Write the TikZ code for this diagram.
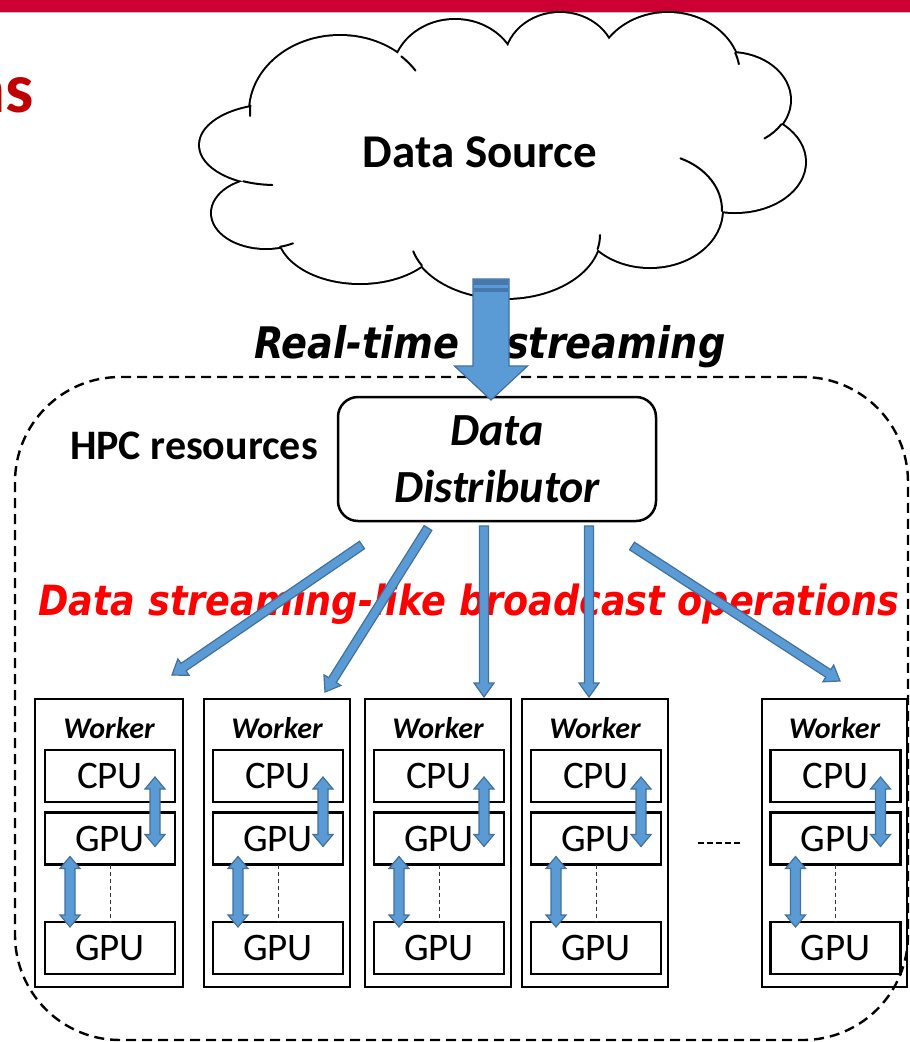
\documentclass[tikz,border=0pt]{standalone}
\usepackage{fontspec}
\setmainfont{Carlito}
\newfontfamily\handfont{DejaVu Sans Bold Oblique}[FakeStretch=0.88]
\usetikzlibrary{calc}

\definecolor{barred}{HTML}{CC0033}
\definecolor{headred}{HTML}{C00000}
\definecolor{flowfill}{HTML}{5B9BD5}
\definecolor{flowedge}{HTML}{41719C}
\definecolor{flowdark}{HTML}{4678B0}

% single-headed block arrow: start, end, shaft half-width, head half-width, head length
\newcommand\blockarrow[5]{%
  \path (#1) coordinate (ba-s) (#2) coordinate (ba-e);
  \path ($(ba-e)!#5!(ba-s)$) coordinate (ba-m);
  \filldraw[flowarrow]
    ($(ba-s)!#3!90:(ba-e)$) -- ($(ba-m)!#3!-90:(ba-s)$) -- ($(ba-m)!#4!-90:(ba-s)$)
    -- (ba-e) -- ($(ba-m)!#4!90:(ba-s)$) -- ($(ba-m)!#3!90:(ba-s)$)
    -- ($(ba-s)!#3!-90:(ba-e)$) -- cycle;
}
% double-headed block arrow: start, end, shaft half-width, head half-width, head length
\newcommand\dblarrow[5]{%
  \path (#1) coordinate (da-s) (#2) coordinate (da-e);
  \path ($(da-s)!#5!(da-e)$) coordinate (da-ms) ($(da-e)!#5!(da-s)$) coordinate (da-me);
  \filldraw[flowarrow]
    (da-s) -- ($(da-ms)!#4!90:(da-e)$) -- ($(da-ms)!#3!90:(da-e)$)
    -- ($(da-me)!#3!-90:(da-s)$) -- ($(da-me)!#4!-90:(da-s)$) -- (da-e)
    -- ($(da-me)!#4!90:(da-s)$) -- ($(da-me)!#3!90:(da-s)$)
    -- ($(da-ms)!#3!-90:(da-e)$) -- ($(da-ms)!#4!-90:(da-e)$) -- cycle;
}
% short inner stroke of a cloud puff: centre x, centre y, rx, ry, from angle, to angle
\newcommand\cloudhook[6]{%
  \draw[cloudline] ($(#1,#2)+(#5:#3 and #4)$) arc[start angle=#5, end angle=#6, x radius=#3, y radius=#4];
}

\begin{document}
\begin{tikzpicture}[x=1pt,y=-1pt,
  every node/.style={inner sep=0pt, outer sep=0pt},
  flowarrow/.style={fill=flowfill, draw=flowedge, line width=1.2pt, line join=miter},
  cloudline/.style={line width=2pt, line cap=round},
  distbox/.style={draw, line width=2.5pt, rounded corners=20pt, minimum width=318pt,
    minimum height=124pt, align=center, font=\bfseries\itshape\fontsize{46}{57}\selectfont},
  hpcbox/.style={draw, line width=2.4pt, dash pattern=on 10pt off 6pt, rounded corners=105pt},
  workerbox/.style={draw, line width=2.5pt, minimum height=288pt},
  unitbox/.style={draw, line width=2.2pt, minimum width=130pt, minimum height=52pt,
    font=\fontsize{39}{40}\selectfont},
  workertitle/.style={anchor=base, font=\bfseries\itshape\fontsize{30}{32}\selectfont},
  linkdash/.style={line width=1pt, dash pattern=on 4pt off 3pt, black!80},
  handtext/.style={anchor=base west, font=\handfont\fontsize{43.5}{46}\selectfont},
]
\useasboundingbox (0,0) rectangle (910,1042);
\fill[white] (0,0) rectangle (910,1042);

% slide header
\fill[barred] (0,0) rectangle (910,12);
\draw[black!25, line width=1pt] (0,12.5) -- (910,12.5);
\node[anchor=base east, text=headred, font=\bfseries\fontsize{71}{72}\selectfont] (ttl) at (34,112) {ns};

% cloud: union of puffs
\def\puffs{340/112/90/76, 455/75/62/55, 560/62/55/49, 668/75/72/62, 730/100/60/47,
  735/162/70/50, 650/210/72/57, 505/235/95/63, 360/232/82/51, 266/213/54/35, 275/145/75/40}
\foreach \cx/\cy/\rx/\ry in \puffs {
  \draw[line width=4pt] (\cx,\cy) ellipse[x radius=\rx, y radius=\ry];
}
\foreach \cx/\cy/\rx/\ry in \puffs {
  \fill[white] (\cx,\cy) ellipse[x radius=\rx, y radius=\ry];
}
\fill[white] (500,160) ellipse[x radius=230, y radius=95];
\cloudhook{340}{112}{90}{76}{185}{177}
\cloudhook{275}{145}{75}{40}{115}{92}
\cloudhook{266}{213}{54}{35}{75}{60}
\cloudhook{505}{235}{95}{63}{151}{165}
\cloudhook{505}{235}{95}{63}{13}{0}
\cloudhook{650}{210}{72}{57}{1}{-65}
\cloudhook{730}{100}{60}{47}{31}{55}
\cloudhook{668}{75}{72}{62}{-21}{-10}
\cloudhook{340}{112}{90}{76}{-47}{-33}
\node[anchor=base, font=\bfseries\fontsize{47}{50}\selectfont] (src) at (480,167) {Data Source};

% streaming label
\node[handtext] (rt1) at (254,358) {Real-time};
\node[handtext] (rt2) at (506,358) {streaming};

% HPC area
\node[hpcbox, minimum width=893pt, minimum height=663pt] (hpcarea) at (461.5,708.5) {};
\node[anchor=base, font=\bfseries\fontsize{42}{44}\selectfont] (hpc) at (194,459) {HPC resources};
\node[distbox] (dist) at (497,459) {Data\\Distributor};

% workers
\foreach \i/\cx/\ww in {1/109/148, 2/277/146, 3/438/146, 4/595/146, 5/834.5/145} {
  \node[workerbox, minimum width=\ww pt] (w\i) at (\cx,843) {};
  \node[workertitle] (wt\i) at (\cx,738) {Worker};
  \node[unitbox] (cpu\i) at (\cx+1,776) {CPU};
  \node[unitbox] (gpa\i) at (\cx+1,838.5) {GPU};
  \node[unitbox] (gpb\i) at (\cx+1,948) {GPU};
  \draw[linkdash] (gpa\i.south) -- (gpb\i.north);
  \dblarrow{$(cpu\i.east)+(-20,1)$}{$(gpa\i.east)+(-20,8)$}{5pt}{10pt}{12pt}
  \dblarrow{$(gpa\i.south west)+(25,-8)$}{$(gpb\i.north west)+(25,5)$}{5pt}{10pt}{12pt}
}
\draw[line width=1.5pt, dash pattern=on 6pt off 3pt] ($(w4.east)+(30,0)$) -- ($(w5.west)+(-22,0)$);

% broadcast label and arrows
\node[anchor=base, text=red, font=\handfont\fontsize{41.6}{44}\selectfont] (bc) at (469,615)
  {Data streaming-like broadcast operations};
\coordinate (b1s) at (362,545); \coordinate (b1e) at (172,675);
\coordinate (b2s) at (428,528); \coordinate (b2e) at (325,692);
\coordinate (b3s) at (484,526); \coordinate (b3e) at (484,697);
\coordinate (b4s) at (589,526); \coordinate (b4e) at (589,697);
\coordinate (b5s) at (632,546); \coordinate (b5e) at (840,681);
\foreach \k in {1,...,5} {
  \blockarrow{b\k s}{b\k e}{4.5pt}{10pt}{14pt}
}

% stream from the source into the distributor
\coordinate (bigtop) at (491,279);
\coordinate (bigtip) at (491,400);
\blockarrow{bigtop}{bigtip}{18pt}{36.5pt}{34pt}
\fill[flowdark] (473.6,279.6) rectangle (508.4,285);
\fill[flowdark] (473.6,287.5) rectangle (508.4,292);
\end{tikzpicture}
\end{document}
